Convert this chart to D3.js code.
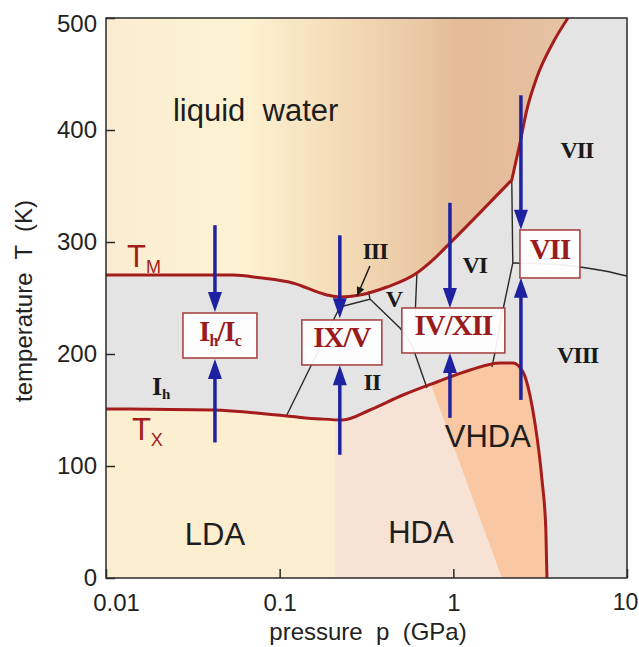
<!DOCTYPE html>
<html>
<head>
<meta charset="utf-8">
<script src="https://cdn.jsdelivr.net/npm/d3@7"></script>
<style>
  body { margin: 0; background: #fff; }
  text { font-family: "Liberation Sans", Arial, sans-serif; }
  .roman { font-family: "Liberation Serif", "Times New Roman", serif; font-weight: bold; }
</style>
</head>
<body>
<script>
// values: pressure p in GPa, temperature T in K
const xTicks = [0.01, 0.1, 1, 10];
const xTickLabels = ["0.01", "0.1", "1", "10"];
const yTicks = [0, 100, 200, 300, 400, 500];

// melting line T_M (split at the ice VI/VII kink)
const meltLow = [[0.01, 270.5], [0.054, 270.5], [0.077, 268], [0.119, 263.4], [0.187, 252.7], [0.222, 251],
  [0.29, 252.7], [0.415, 259.8], [0.617, 272.3], [0.763, 284], [0.956, 299], [1.42, 326], [2.17, 355.4]];
const meltHigh = [[2.17, 355.4], [2.42, 388.4], [2.65, 418], [3.03, 447.3], [3.74, 477.7], [4.57, 500]];

// crystallisation line T_X
const txCurve = [[0.01, 150.9], [0.0413, 150], [0.11, 144.6], [0.171, 142], [0.231, 141.1], [0.331, 150],
  [0.513, 163.4], [0.804, 175], [1.25, 185.7], [1.86, 192], [2.2, 192], [2.52, 184], [2.76, 163.4],
  [2.95, 138.4], [3.24, 87.5], [3.41, 42.9], [3.46, 0]];

// amorphous regions
const ldaHdaBorder = 0.21;
const vhdaBorder = [[0.64, 200], [1.905, 0]];

// crystalline phase boundaries (black lines)
const boundaries = [
  [[0.222, 242], [0.11, 145.5]],                              // Ih / II
  [[0.222, 242], [0.331, 249], [0.325, 256]],                 // III
  [[0.331, 249], [0.493, 223.2], [0.578, 208], [0.705, 169.6]], // V / II, VI / II
  [[0.617, 272.3], [0.601, 230.4]],                           // V / VI
  [[2.17, 355.4], [2.2, 281.3], [1.93, 239.3], [1.735, 200.9], [1.668, 188.4]], // VI / VII, VI / VIII
];
const vii_viii = [[2.2, 281.3], [3.6, 280.4], [5.36, 277.7], [7.46, 274.1], [10, 269.6]];

// blue arrows: pressure, cooling/heating start and end temperatures
const arrowP = [0.0424, 0.222, 0.956, 2.45];
const arrowDown = [[315, 237.5], [306, 232], [335, 241], [431, 311]];
const arrowUp = [[121, 195.5], [110, 190], [143, 201], [159, 268]];

// boxed labels at the arrow meeting points
const boxLabels = [
  { parts: [["I"], ["h", 1], ["/I"], ["c", 1]], p: 0.0453, t: 216.5, w: 74, h: 45 },
  { parts: [["IX/V"]], p: 0.228, t: 210.3, w: 80, h: 45 },
  { parts: [["IV/XII"]], p: 1.0, t: 221, w: 103, h: 45 },
  { parts: [["VII"]], p: 3.6, t: 289.3, w: 60, h: 48 },
];

const phaseLabels = [
  { text: "VII", p: 5.15, t: 375 },
  { text: "VIII", p: 5.2, t: 192 },
  { text: "VI", p: 1.33, t: 272.3 },
  { text: "V", p: 0.455, t: 242 },
  { text: "II", p: 0.34, t: 167.9 },
  { text: "III", p: 0.354, t: 284.8 },
];
const amorphLabels = [
  { text: "LDA", p: 0.0424, t: 29.5 },
  { text: "HDA", p: 0.651, t: 31.25 },
  { text: "VHDA", p: 1.58, t: 117 },
];

const width = 639, height = 647;
const x = d3.scaleLog().domain([0.01, 10]).range([106, 627]);
const y = d3.scaleLinear().domain([0, 500]).range([578, 18]);

const svg = d3.select("body").append("svg").attr("width", width).attr("height", height);
const defs = svg.append("defs");

const grad = defs.append("linearGradient").attr("id", "liq")
  .attr("gradientUnits", "userSpaceOnUse")
  .attr("x1", 106).attr("x2", 568).attr("y1", 0).attr("y2", 0);
[[0, "#faecd1"], [0.29, "#fdf3d3"], [0.485, "#f5deb9"], [0.68, "#eac8a5"], [0.77, "#e4ba97"], [0.92, "#e5bf9f"], [1, "#e7c4a5"]]
  .forEach(s => grad.append("stop").attr("offset", s[0]).attr("stop-color", s[1]));

const line = d3.line().x(d => x(d[0])).y(d => y(d[1])).curve(d3.curveMonotoneX);
const plainLine = d3.line().x(d => x(d[0])).y(d => y(d[1]));
const meltPath = line(meltLow) + line(meltHigh).replace(/^M/, "L");
const txPath = line(txCurve);

// regions
svg.append("rect").attr("x", x(0.01)).attr("y", y(500))
  .attr("width", x(10) - x(0.01)).attr("height", y(0) - y(500)).attr("fill", "#e4e4e4");

svg.append("path").attr("d", meltPath + `L${x(0.01)},${y(500)}Z`).attr("fill", "url(#liq)");

defs.append("clipPath").attr("id", "below").append("path")
  .attr("d", txPath + `L${x(0.01)},${y(0)}Z`);
const amorph = svg.append("g").attr("clip-path", "url(#below)");
amorph.append("rect").attr("x", x(0.01)).attr("y", y(300))
  .attr("width", x(ldaHdaBorder) - x(0.01)).attr("height", y(0) - y(300)).attr("fill", "#fcefd0");
amorph.append("rect").attr("x", x(ldaHdaBorder)).attr("y", y(300))
  .attr("width", x(10) - x(ldaHdaBorder)).attr("height", y(0) - y(300)).attr("fill", "#f6e3d5");
amorph.append("path")
  .attr("d", plainLine([vhdaBorder[0], vhdaBorder[1], [10, 0], [10, 200]]) + "Z")
  .attr("fill", "#f9c7a2");

// black phase boundaries
const bl = svg.append("g").attr("fill", "none").attr("stroke", "#2a2a2a").attr("stroke-width", 1.4);
boundaries.forEach(b => bl.append("path").attr("d", plainLine(b)));
bl.append("path").attr("d", line(vii_viii));

// red curves
svg.append("path").attr("d", meltPath).attr("fill", "none").attr("stroke", "#a51c1c").attr("stroke-width", 3);
svg.append("path").attr("d", txPath).attr("fill", "none").attr("stroke", "#a51c1c").attr("stroke-width", 3);

// blue arrows
const ar = svg.append("g");
function drawArrow(p, t0, t1) {
  const px = x(p), y0 = y(t0), y1 = y(t1);
  const dir = y1 > y0 ? 1 : -1;
  const hl = 20, hw = 7;
  ar.append("line").attr("x1", px).attr("x2", px).attr("y1", y0).attr("y2", y1 - dir * hl * 0.7)
    .attr("stroke", "#1e22a0").attr("stroke-width", 3.5);
  ar.append("path").attr("d", `M${px},${y1}L${px - hw},${y1 - dir * hl}L${px + hw},${y1 - dir * hl}Z`)
    .attr("fill", "#1e22a0");
}
arrowP.forEach((p, i) => {
  drawArrow(p, arrowDown[i][0], arrowDown[i][1]);
  drawArrow(p, arrowUp[i][0], arrowUp[i][1]);
});

// III pointer
const pa = [x(0.331), y(278.6)], pb = [x(0.279), y(251.8)];
svg.append("line").attr("x1", pa[0]).attr("y1", pa[1]).attr("x2", pb[0]).attr("y2", pb[1])
  .attr("stroke", "#1a1a1a").attr("stroke-width", 1.5);
{
  const ang = Math.atan2(pb[1] - pa[1], pb[0] - pa[0]);
  const l = 9, w = 4;
  const bx = pb[0] - l * Math.cos(ang), by = pb[1] - l * Math.sin(ang);
  svg.append("path").attr("fill", "#1a1a1a")
    .attr("d", `M${pb[0]},${pb[1]}L${bx + w * Math.sin(ang)},${by - w * Math.cos(ang)}L${bx - w * Math.sin(ang)},${by + w * Math.cos(ang)}Z`);
}

// boxes
boxLabels.forEach(b => {
  const cx = x(b.p), cy = y(b.t);
  svg.append("rect").attr("x", cx - b.w / 2).attr("y", cy - b.h / 2).attr("width", b.w).attr("height", b.h)
    .attr("fill", "#fff").attr("fill-opacity", 0.93).attr("stroke", "#a84545").attr("stroke-width", 1.6);
  const t = svg.append("text").attr("class", "roman").attr("x", cx).attr("y", cy + 10)
    .attr("text-anchor", "middle").attr("fill", "#991b1b").attr("font-size", 29)
    .attr("letter-spacing", -1);
  b.parts.forEach(part => {
    if (part[1]) t.append("tspan").attr("font-size", 16).attr("dy", 5).text(part[0]);
    else t.append("tspan").attr("dy", t.selectAll("tspan").size() ? -5 : 0).text(part[0]);
  });
});

// phase names
phaseLabels.forEach(d => {
  svg.append("text").attr("class", "roman").attr("x", x(d.p)).attr("y", y(d.t))
    .attr("text-anchor", "middle").attr("font-size", 24).attr("letter-spacing", -1)
    .attr("fill", "#1a1a1a").text(d.text);
});
{
  const ih = svg.append("text").attr("class", "roman").attr("x", x(0.0184)).attr("y", y(163.4))
    .attr("font-size", 26).attr("fill", "#1a1a1a");
  ih.append("tspan").text("I");
  ih.append("tspan").attr("font-size", 15).attr("dy", 4).text("h");
}
amorphLabels.forEach(d => {
  svg.append("text").attr("x", x(d.p)).attr("y", y(d.t)).attr("text-anchor", "middle")
    .attr("font-size", 31).attr("fill", "#1e1e1e").text(d.text);
});
svg.append("text").attr("x", x(0.0243)).attr("y", y(408)).attr("font-size", 31).attr("fill", "#1e1e1e")
  .style("white-space", "pre").text("liquid  water");

// T_M and T_X
[[0.0132, 277.7, "M"], [0.0141, 123.2, "X"]].forEach(d => {
  const t = svg.append("text").attr("x", x(d[0])).attr("y", y(d[1])).attr("fill", "#a51c1c").attr("font-size", 31);
  t.append("tspan").text("T");
  t.append("tspan").attr("font-size", 18).attr("dy", 6).text(d[2]);
});

// frame and axes
svg.append("rect").attr("x", x(0.01)).attr("y", y(500))
  .attr("width", x(10) - x(0.01)).attr("height", y(0) - y(500))
  .attr("fill", "none").attr("stroke", "#2a2a2a").attr("stroke-width", 1.5);

const yAxis = svg.append("g").attr("transform", `translate(${x(0.01)},0)`)
  .call(d3.axisLeft(y).tickValues(yTicks).tickSizeInner(-9).tickSizeOuter(0).tickPadding(9));
const xAxis = svg.append("g").attr("transform", `translate(0,${y(0)})`)
  .call(d3.axisBottom(x).tickValues(xTicks).tickFormat((d, i) => xTickLabels[i])
    .tickSizeInner(-9).tickSizeOuter(0).tickPadding(16));
[yAxis, xAxis].forEach(a => {
  a.select(".domain").remove();
  a.attr("font-family", null).attr("font-size", null);
  a.selectAll("line").attr("stroke", "#2a2a2a").attr("stroke-width", 1.5);
  a.selectAll("text").attr("font-size", 24).attr("fill", "#222");
});
yAxis.selectAll(".tick").filter(d => d === 500).select("text").attr("dy", "0.55em");
xAxis.selectAll(".tick").filter(d => d === 0.01).select("text").attr("dx", 10);
xAxis.selectAll(".tick").filter(d => d === 10).select("text").attr("dx", -2).attr("font-size", 23);

svg.append("text").attr("x", 368).attr("y", 640).attr("text-anchor", "middle")
  .attr("font-size", 24).attr("fill", "#222").style("white-space", "pre").text("pressure  p  (GPa)");
svg.append("text").attr("transform", "translate(32,301) rotate(-90)").attr("text-anchor", "middle")
  .attr("font-size", 24).attr("fill", "#222").style("white-space", "pre").text("temperature  T  (K)");
</script>
</body>
</html>
